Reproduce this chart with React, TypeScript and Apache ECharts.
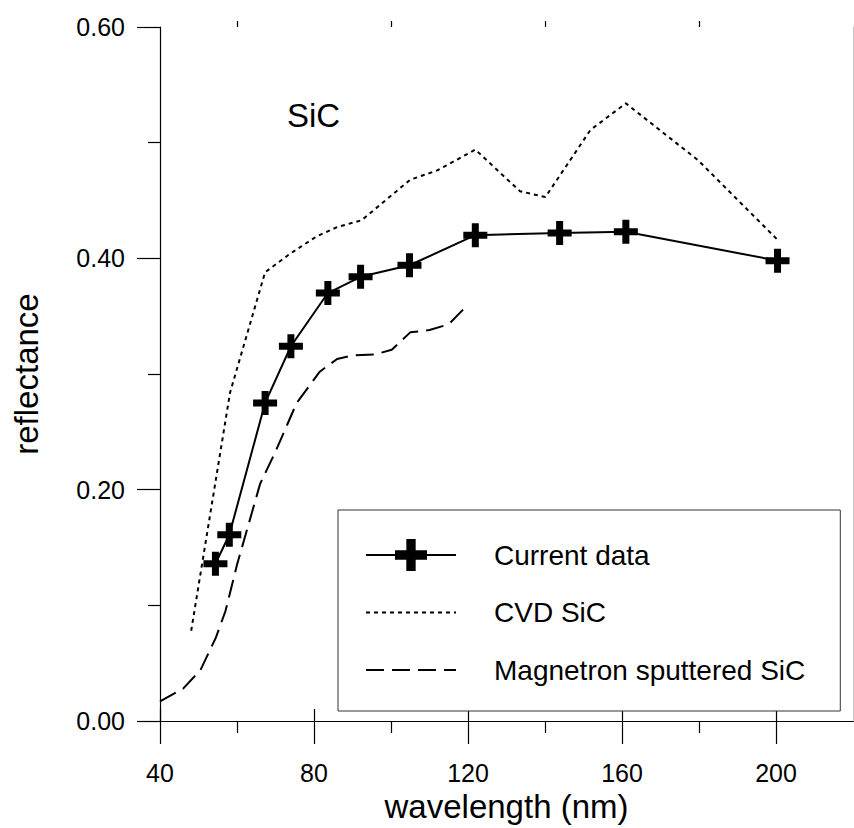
import React, { useEffect, useRef } from "react";
import * as echarts from "echarts";

const FONT = "Arial, 'Liberation Sans', sans-serif";

const xMajorTicks = [40, 80, 120, 160, 200];
const xMinorTicks = [60, 100, 140, 180];
const yMajorTicks = [0, 0.2, 0.4, 0.6];
const yMinorTicks = [0.1, 0.3, 0.5];

const currentWavelength = [54.4, 58.0, 67.3, 74.0, 83.6, 92.1, 104.8, 121.9, 143.8, 161.0, 200.4];
const currentReflectance = [0.136, 0.161, 0.275, 0.324, 0.370, 0.384, 0.394, 0.420, 0.422, 0.423, 0.398];

const cvdWavelength = [48.1, 58.2, 67.3, 73.8, 80.7, 86.0, 92.4, 105.0, 112.0, 121.9, 133.5, 140.1, 151.8, 161.0, 179.7, 200.4];
const cvdReflectance = [0.078, 0.284, 0.388, 0.404, 0.419, 0.427, 0.433, 0.468, 0.476, 0.494, 0.458, 0.453, 0.511, 0.534, 0.485, 0.416];

const magWavelength = [40.0, 46.0, 50.5, 54.5, 57.0, 60.0, 63.0, 66.0, 70.0, 75.5, 81.5, 86.0, 90.0, 96.0, 100.2, 105.0, 110.0, 115.0, 120.0];
const magReflectance = [0.017, 0.028, 0.044, 0.072, 0.095, 0.135, 0.170, 0.205, 0.233, 0.275, 0.302, 0.313, 0.316, 0.317, 0.321, 0.336, 0.338, 0.343, 0.360];

const seriesNames = ["Current data", "CVD SiC", "Magnetron sputtered SiC"];

const pairs = (xs: number[], ys: number[]) => xs.map((x, i) => [x, ys[i]]);

const PLUS = "path://M8.5,0H15.5V8.5H24V15.5H15.5V24H8.5V15.5H0V8.5H8.5Z";

export default function App() {
  const ref = useRef<HTMLDivElement>(null);
  useEffect(() => {
    if (!ref.current) return;
    const chart = echarts.init(ref.current, null, { renderer: "svg" });
    const axisLineStyle = { color: "#000", width: 1.2 };
    const baseX = { type: "value", min: 40, max: 220, interval: 40, splitLine: { show: false } };
    const baseY = { type: "value", min: 0, max: 0.6, interval: 0.2, splitLine: { show: false } };
    chart.setOption({
      animation: false,
      backgroundColor: "#fff",
      grid: { left: 160, top: 27, right: 1, bottom: 107, containLabel: false },
      xAxis: [
        {
          ...baseX,
          position: "bottom",
          name: "wavelength (nm)",
          nameLocation: "middle",
          nameGap: 68,
          nameTextStyle: { fontSize: 33, color: "#000", fontFamily: FONT },
          axisLine: { show: true, lineStyle: axisLineStyle },
          axisTick: { show: true, inside: false, length: 23, customValues: xMajorTicks, lineStyle: { color: "#000", width: 1.2 } },
          axisLabel: { show: true, customValues: xMajorTicks, margin: 39, fontSize: 25, color: "#000", fontFamily: FONT },
        },
        {
          ...baseX,
          position: "bottom",
          axisLine: { show: false },
          axisTick: { show: true, inside: false, length: 12, customValues: xMinorTicks, lineStyle: { color: "#000", width: 1.2 } },
          axisLabel: { show: false },
        },
        {
          ...baseX,
          position: "top",
          axisLine: { show: true, lineStyle: axisLineStyle },
          axisTick: { show: true, inside: false, length: 12, customValues: xMajorTicks, lineStyle: { color: "#000", width: 1.2 } },
          axisLabel: { show: false },
        },
        {
          ...baseX,
          position: "top",
          axisLine: { show: false },
          axisTick: { show: true, inside: false, length: 6, customValues: xMinorTicks, lineStyle: { color: "#000", width: 1.2 } },
          axisLabel: { show: false },
        },
      ],
      yAxis: [
        {
          ...baseY,
          position: "left",
          name: "reflectance",
          nameLocation: "middle",
          nameGap: 117,
          nameRotate: 90,
          nameTextStyle: { fontSize: 33, color: "#000", fontFamily: FONT },
          axisLine: { show: true, lineStyle: axisLineStyle },
          axisTick: { show: true, inside: false, length: 23, customValues: yMajorTicks, lineStyle: { color: "#000", width: 1.2 } },
          axisLabel: {
            show: true,
            customValues: yMajorTicks,
            margin: 35,
            fontSize: 25,
            color: "#000",
            fontFamily: FONT,
            formatter: (v: number) => v.toFixed(2),
          },
        },
        {
          ...baseY,
          position: "left",
          axisLine: { show: false },
          axisTick: { show: true, inside: false, length: 12, customValues: yMinorTicks, lineStyle: { color: "#000", width: 1.2 } },
          axisLabel: { show: false },
        },
        {
          ...baseY,
          position: "right",
          axisLine: { show: true, lineStyle: { color: "#c8c8c8", width: 1 } },
          axisTick: { show: false },
          axisLabel: { show: false },
        },
      ],
      legend: {
        show: true,
        orient: "vertical",
        left: 338,
        top: 510,
        padding: [29, 35, 25, 27],
        borderColor: "#333",
        borderWidth: 1,
        backgroundColor: "#fff",
        itemWidth: 90,
        itemHeight: 40,
        itemGap: 25.5,
        data: [
          { name: seriesNames[0] },
          { name: seriesNames[1], itemStyle: { opacity: 0 } },
          { name: seriesNames[2], itemStyle: { opacity: 0 } },
        ],
        textStyle: { fontSize: 28, color: "#000", fontFamily: FONT, padding: [0, 0, 0, 33] },
      },
      graphic: [
        {
          type: "text",
          left: 287,
          top: 99,
          style: { text: "SiC", fontSize: 33, fill: "#000", fontFamily: FONT },
        },
      ],
      series: [
        {
          name: seriesNames[1],
          type: "line",
          data: pairs(cvdWavelength, cvdReflectance),
          symbol: "none",
          lineStyle: { color: "#000", width: 2, type: [4, 4] },
          itemStyle: { color: "#000" },
          z: 2,
        },
        {
          name: seriesNames[2],
          type: "line",
          data: pairs(magWavelength, magReflectance),
          symbol: "none",
          lineStyle: { color: "#000", width: 2, type: [18, 8] },
          itemStyle: { color: "#000" },
          z: 2,
        },
        {
          name: seriesNames[0],
          type: "line",
          data: pairs(currentWavelength, currentReflectance),
          symbol: PLUS,
          symbolSize: 24,
          showSymbol: true,
          lineStyle: { color: "#000", width: 2 },
          itemStyle: { color: "#000" },
          z: 3,
        },
      ],
    });
    return () => chart.dispose();
  }, []);
  return (
    <div
      ref={ref}
      style={{ position: "fixed", left: 0, top: 0, width: 854, height: 828, background: "#fff" }}
    />
  );
}
